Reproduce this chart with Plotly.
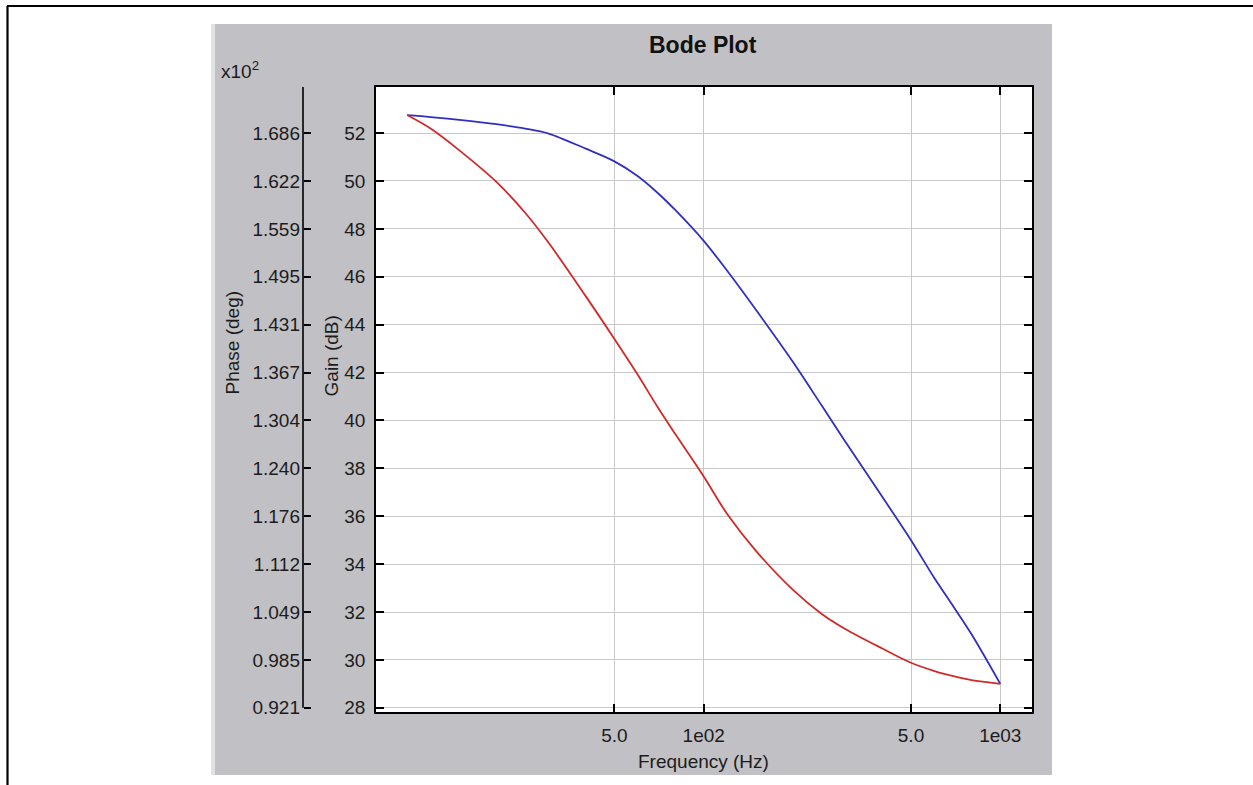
import plotly.graph_objects as go

# ---------------- data ----------------
freq_hz = [10, 12, 15, 20, 25, 30, 40, 50, 60, 70, 80, 100, 120, 150,
           200, 250, 300, 400, 500, 600, 700, 800, 1000]
gain_db = [52.75, 52.67, 52.55, 52.37, 52.19, 51.98, 51.35, 50.82, 50.2,
           49.5, 48.8, 47.5, 46.25, 44.62, 42.44, 40.62, 39.12, 36.81,
           35.0, 33.41, 32.17, 31.07, 29.0]
phase_deg = [171.0, 169.2, 166.3, 162.1, 158.0, 154.0, 146.9, 141.2, 136.4,
             132.1, 128.6, 122.9, 117.9, 113.0, 107.8, 104.6, 102.6, 100.0,
             98.1, 97.0, 96.3, 95.8, 95.3]

gain_tick_vals = [28, 30, 32, 34, 36, 38, 40, 42, 44, 46, 48, 50, 52]
phase_tick_vals = [92.1, 98.475, 104.85, 111.225, 117.6, 123.975, 130.35,
                   136.725, 143.1, 149.475, 155.85, 162.225, 168.6]
phase_tick_labels = ["0.921", "0.985", "1.049", "1.112", "1.176", "1.240",
                     "1.304", "1.367", "1.431", "1.495", "1.559", "1.622",
                     "1.686"]
freq_tick_vals = [50, 100, 500, 1000]
freq_tick_labels = ["5.0", "1e02", "5.0", "1e03"]

# ---------------- layout geometry (reference pixels) ----------------
W, H = 1253, 785
FIG_H = 793          # the photographed viewport is slightly taller
PL, PR, PT, PB = 376, 1032, 87, 711


def fx(px):
    return px / W


def fy(py):
    return 1 - py / H


FONT = "Liberation Sans, Arial, Helvetica, sans-serif"
TXT = "#1c1c1c"

fig = go.Figure()
fig.add_trace(go.Scatter(x=freq_hz, y=phase_deg, mode="lines", yaxis="y2",
                         line=dict(color="#d02a2a", width=1.8,
                                   shape="spline", smoothing=0.9),
                         name="Phase"))
fig.add_trace(go.Scatter(x=freq_hz, y=gain_db, mode="lines", yaxis="y",
                         line=dict(color="#3030c0", width=1.8,
                                   shape="spline", smoothing=0.9),
                         name="Gain"))

axis_common = dict(showline=True, linecolor="black", linewidth=1.6,
                   ticks="inside", ticklen=8, tickwidth=1.6, tickcolor="black",
                   mirror="ticks", showgrid=True, gridcolor="#c9c9c9",
                   gridwidth=1.4, zeroline=False,
                   tickfont=dict(family=FONT, size=19, color=TXT))

fig.update_layout(
    width=W, height=FIG_H,
    margin=dict(l=0, r=0, t=0, b=0),
    paper_bgcolor="white",
    plot_bgcolor="white",
    showlegend=False,
    xaxis=dict(type="log", domain=[fx(PL), fx(PR)],
               range=[0.8951, 3.1069],
               tickmode="array", tickvals=freq_tick_vals,
               ticktext=freq_tick_labels, ticklabelstandoff=5,
               **axis_common),
    yaxis=dict(domain=[fy(PB), fy(PT)], range=[27.83, 53.92],
               tickmode="array", tickvals=gain_tick_vals,
               ticklabelstandoff=5, **axis_common),
    yaxis2=dict(overlaying="y", anchor="free", position=fx(303), side="left",
                range=[91.558, 174.72], tickmode="array",
                tickvals=phase_tick_vals, ticktext=phase_tick_labels,
                showline=False, showgrid=False, zeroline=False,
                ticks="inside", ticklen=7, tickwidth=1.6, tickcolor="black",
                ticklabelstandoff=3,
                tickfont=dict(family=FONT, size=19, color=TXT)),
)

shapes = [
    # grey panel
    dict(type="rect", xref="paper", yref="paper", x0=fx(211), x1=fx(1052),
         y0=fy(774), y1=fy(24), fillcolor="#c1c0c4", line_width=0,
         layer="below"),
    # light bevel on the panel's left edge
    dict(type="rect", xref="paper", yref="paper", x0=fx(211), x1=fx(215),
         y0=fy(774), y1=fy(24), fillcolor="#e2e2e2", line_width=0,
         layer="below"),
    # white plot area
    dict(type="rect", xref="paper", yref="paper", x0=fx(PL), x1=fx(PR),
         y0=fy(PB), y1=fy(PT), fillcolor="white", line_width=0,
         layer="below"),
    # phase axis line
    dict(type="line", xref="paper", yref="y2", x0=fx(303), x1=fx(303),
         y0=phase_tick_vals[0], y1=174.72,
         line=dict(color="black", width=1.6)),
    # outer frame (top + left)
    dict(type="line", xref="paper", yref="paper", x0=fx(7), x1=1,
         y0=fy(6), y1=fy(6), line=dict(color="black", width=2.2)),
    dict(type="line", xref="paper", yref="paper", x0=fx(7.5), x1=fx(7.5),
         y0=fy(6), y1=0, line=dict(color="black", width=2.2)),
]
fig.update_layout(shapes=shapes)

annotations = [
    dict(text="<b>Bode Plot</b>", x=fx(703), y=fy(45), xref="paper",
         yref="paper", showarrow=False, xanchor="center", yanchor="middle",
         font=dict(family=FONT, size=23, color="#111111")),
    dict(text="x10<sup>2</sup>", x=fx(219), y=fy(70), xref="paper",
         yref="paper", showarrow=False, xanchor="left", yanchor="middle",
         font=dict(family=FONT, size=19, color=TXT)),
    dict(text="Frequency (Hz)", x=fx(703), y=fy(761), xref="paper",
         yref="paper", showarrow=False, xanchor="center", yanchor="middle",
         font=dict(family=FONT, size=19, color=TXT)),
    dict(text="Phase (deg)", x=fx(232), y=fy(342), xref="paper",
         yref="paper", showarrow=False, textangle=-90, xanchor="center",
         yanchor="middle", font=dict(family=FONT, size=19, color=TXT)),
    dict(text="Gain (dB)", x=fx(331), y=fy(356), xref="paper",
         yref="paper", showarrow=False, textangle=-90, xanchor="center",
         yanchor="middle", font=dict(family=FONT, size=19, color=TXT)),
]
fig.update_layout(annotations=annotations)

fig.write_html(
    "out.html",
    config={"displayModeBar": False},
    post_script="document.body.style.margin='0px';"
                "document.body.style.overflow='hidden';",
)
